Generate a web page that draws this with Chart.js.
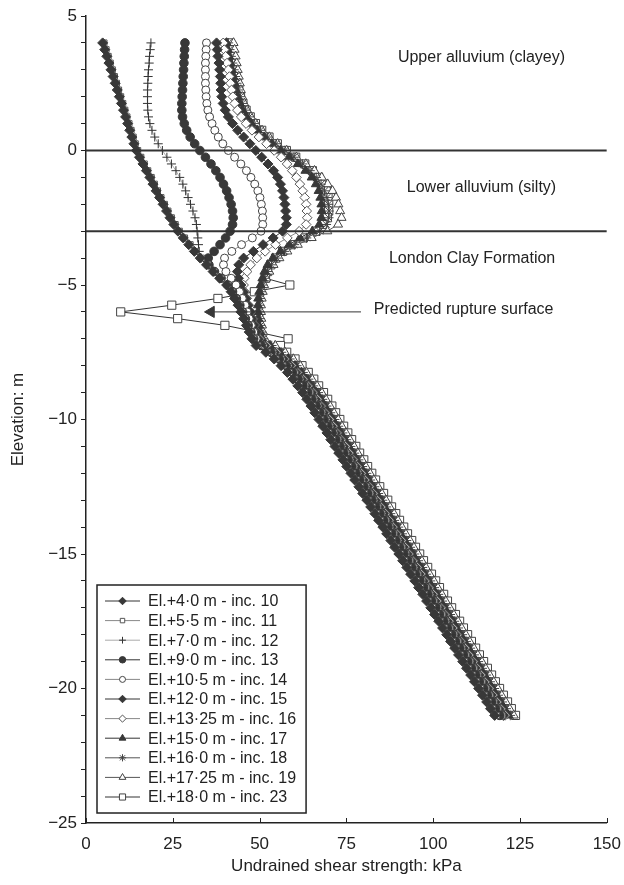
<!DOCTYPE html>
<html>
<head>
<meta charset="utf-8">
<script src="https://cdn.jsdelivr.net/npm/chart.js@4"></script>
<style>
  html, body { margin: 0; padding: 0; background: #fff; }
  #wrap { width: 624px; height: 885px; }
</style>
</head>
<body>
<div id="wrap"><canvas id="chart" width="624" height="885"></canvas></div>
<script>
// Elevation of every reading (m)
const elevation = [
  4, 3.75, 3.5, 3.25, 3, 2.75, 2.5, 2.25, 2, 1.75, 1.5, 1.25, 1, 0.75, 0.5, 0.25, 0,
  -0.25, -0.5, -0.75, -1, -1.25, -1.5, -1.75, -2, -2.25, -2.5, -2.75, -3,
  -3.25, -3.5, -3.75, -4, -4.25, -4.5, -4.75, -5, -5.25, -5.5, -5.75, -6,
  -6.25, -6.5, -6.75, -7, -7.25, -7.5, -7.75, -8, -8.25, -8.5, -8.75, -9,
  -9.25, -9.5, -9.75, -10, -10.25, -10.5, -10.75, -11, -11.25, -11.5, -11.75, -12,
  -12.25, -12.5, -12.75, -13, -13.25, -13.5, -13.75, -14, -14.25, -14.5, -14.75, -15,
  -15.25, -15.5, -15.75, -16, -16.25, -16.5, -16.75, -17, -17.25, -17.5, -17.75, -18,
  -18.25, -18.5, -18.75, -19, -19.25, -19.5, -19.75, -20, -20.25, -20.5, -20.75, -21
];

// Undrained shear strength (kPa) per increment
const inc10 = [4.8, 5.4, 6.0, 6.6, 7.2, 7.8, 8.4, 9.0, 9.6, 10.2, 10.8, 11.4, 12.0, 12.6, 13.2, 13.8, 14.5,
  15.4, 16.4, 17.4, 18.4, 19.3, 20.2, 21.2, 22.2, 23.2, 24.2, 25.3, 26.5,
  28.0, 29.6, 31.2, 32.9, 34.7, 36.6, 38.5, 40.5, 41.8, 42.8, 43.8, 44.6,
  45.4, 46.2, 47.0, 47.8, 49.0, 51.8, 54.2, 56.2, 58.0, 59.6, 61.0, 62.4,
  63.6, 64.8, 65.9, 67.1, 68.2, 69.4, 70.5, 71.7, 72.8, 74.0, 75.1, 76.3,
  77.4, 78.6, 79.7, 80.9, 82.0, 83.2, 84.3, 85.5, 86.6, 87.8, 88.9, 90.1,
  91.2, 92.4, 93.5, 94.7, 95.8, 97.0, 98.1, 99.3, 100.4, 101.6, 102.7, 103.9,
  105.0, 106.2, 107.3, 108.5, 109.6, 110.8, 111.9, 113.1, 114.2, 115.4, 116.5, 117.7];
const inc11 = [5.2, 5.8, 6.4, 7.0, 7.6, 8.2, 8.8, 9.4, 10.0, 10.6, 11.2, 11.8, 12.4, 13.0, 13.6, 14.2, 14.9,
  15.8, 16.8, 17.8, 18.8, 19.7, 20.6, 21.6, 22.6, 23.6, 24.6, 25.7, 26.9,
  28.4, 30.0, 31.6, 33.3, 35.1, 37.0, 38.9, 40.9, 42.2, 43.2, 44.2, 45.0,
  45.8, 46.6, 47.4, 48.2, 49.5, 52.3, 54.7, 56.7, 58.5, 60.1, 61.5, 62.9,
  64.1, 65.3, 66.4, 67.6, 68.7, 69.9, 71.0, 72.2, 73.3, 74.5, 75.6, 76.8,
  77.9, 79.1, 80.2, 81.4, 82.5, 83.7, 84.8, 86.0, 87.1, 88.3, 89.4, 90.6,
  91.7, 92.9, 94.0, 95.2, 96.3, 97.5, 98.6, 99.8, 100.9, 102.1, 103.2, 104.4,
  105.5, 106.7, 107.8, 109.0, 110.1, 111.3, 112.4, 113.6, 114.7, 115.9, 117.0, 118.2];
const inc12 = [18.7, 18.5, 18.3, 18.2, 18.0, 17.9, 17.8, 17.7, 17.7, 17.7, 17.8, 18.0, 18.4, 19.0, 19.8, 20.8, 22.0,
  23.3, 24.6, 25.9, 27.0, 27.9, 28.7, 29.4, 30.1, 30.8, 31.4, 31.8, 32.0,
  32.2, 32.4, 32.6, 33.2, 34.8, 36.7, 38.6, 40.6, 42.0, 43.1, 44.1, 44.9,
  45.7, 46.5, 47.3, 48.1, 50.0, 52.8, 55.2, 57.2, 59.0, 60.6, 62.0, 63.4,
  64.6, 65.8, 66.9, 68.1, 69.2, 70.4, 71.5, 72.7, 73.8, 75.0, 76.1, 77.3,
  78.4, 79.6, 80.7, 81.9, 83.0, 84.2, 85.3, 86.5, 87.6, 88.8, 89.9, 91.1,
  92.2, 93.4, 94.5, 95.7, 96.8, 98.0, 99.1, 100.3, 101.4, 102.6, 103.7, 104.9,
  106.0, 107.2, 108.3, 109.5, 110.6, 111.8, 112.9, 114.1, 115.2, 116.4, 117.5, 118.7];
const inc13 = [28.5, 28.4, 28.3, 28.2, 28.1, 28.0, 27.9, 27.8, 27.7, 27.6, 27.6, 27.8, 28.3, 29.0, 30.0, 31.3, 32.8,
  34.4, 36.0, 37.4, 38.6, 39.6, 40.5, 41.2, 41.8, 42.2, 42.4, 42.2, 41.5,
  40.2, 38.6, 36.9, 35.2, 35.4, 37.0, 38.9, 40.8, 42.2, 43.3, 44.3, 45.1,
  45.9, 46.7, 47.5, 48.3, 50.5, 53.3, 55.7, 57.7, 59.5, 61.1, 62.5, 63.9,
  65.1, 66.3, 67.4, 68.6, 69.7, 70.9, 72.0, 73.2, 74.3, 75.5, 76.6, 77.8,
  78.9, 80.1, 81.2, 82.4, 83.5, 84.7, 85.8, 87.0, 88.1, 89.3, 90.4, 91.6,
  92.7, 93.9, 95.0, 96.2, 97.3, 98.5, 99.6, 100.8, 101.9, 103.1, 104.2, 105.4,
  106.5, 107.7, 108.8, 110.0, 111.1, 112.3, 113.4, 114.6, 115.7, 116.9, 118.0, 119.2];
const inc14 = [34.7, 34.6, 34.5, 34.4, 34.4, 34.4, 34.4, 34.5, 34.6, 34.8, 35.1, 35.6, 36.3, 37.1, 38.1, 39.4, 41.0,
  42.8, 44.6, 46.2, 47.5, 48.6, 49.5, 50.1, 50.5, 50.8, 50.9, 50.9, 50.4,
  47.9, 44.8, 42.0, 39.9, 39.6, 40.3, 41.8, 43.2, 44.2, 45.0, 45.8, 46.4,
  47.0, 47.6, 48.3, 49.0, 51.0, 53.8, 56.2, 58.2, 60.0, 61.6, 63.0, 64.4,
  65.6, 66.8, 67.9, 69.1, 70.2, 71.4, 72.5, 73.7, 74.8, 76.0, 77.1, 78.3,
  79.4, 80.6, 81.7, 82.9, 84.0, 85.2, 86.3, 87.5, 88.6, 89.8, 90.9, 92.1,
  93.2, 94.4, 95.5, 96.7, 97.8, 99.0, 100.1, 101.3, 102.4, 103.6, 104.7, 105.9,
  107.0, 108.2, 109.3, 110.5, 111.6, 112.8, 113.9, 115.1, 116.2, 117.4, 118.5, 119.7];
const inc15 = [37.6, 37.8, 38.0, 38.3, 38.5, 38.7, 38.8, 38.9, 39.1, 39.5, 40.1, 41.0, 42.2, 43.7, 45.4, 47.2, 48.9,
  50.6, 52.4, 54.0, 55.2, 56.0, 56.6, 57.0, 57.3, 57.5, 57.7, 57.7, 56.6,
  53.9, 51.0, 48.2, 45.4, 44.0, 43.6, 43.9, 44.6, 45.3, 46.0, 46.6, 47.2,
  47.8, 48.4, 49.0, 49.6, 51.5, 54.3, 56.7, 58.7, 60.5, 62.1, 63.5, 64.9,
  66.1, 67.3, 68.4, 69.6, 70.7, 71.9, 73.0, 74.2, 75.3, 76.5, 77.6, 78.8,
  79.9, 81.1, 82.2, 83.4, 84.5, 85.7, 86.8, 88.0, 89.1, 90.3, 91.4, 92.6,
  93.7, 94.9, 96.0, 97.2, 98.3, 99.5, 100.6, 101.8, 102.9, 104.1, 105.2, 106.4,
  107.5, 108.7, 109.8, 111.0, 112.1, 113.3, 114.4, 115.6, 116.7, 117.9, 119.0, 120.2];
const inc16 = [39.5, 39.8, 40.2, 40.6, 41.0, 41.3, 41.6, 41.9, 42.3, 42.8, 43.6, 44.7, 46.1, 47.8, 49.8, 52.0, 54.2,
  56.2, 57.9, 59.4, 60.6, 61.6, 62.4, 63.0, 63.4, 63.6, 63.7, 63.4, 61.4,
  58.0, 54.6, 51.6, 49.2, 47.4, 46.4, 45.6, 45.4, 45.7, 46.3, 46.9, 47.5,
  48.1, 48.7, 49.3, 50.0, 52.0, 54.8, 57.2, 59.2, 61.0, 62.6, 64.0, 65.4,
  66.6, 67.8, 68.9, 70.1, 71.2, 72.4, 73.5, 74.7, 75.8, 77.0, 78.1, 79.3,
  80.4, 81.6, 82.7, 83.9, 85.0, 86.2, 87.3, 88.5, 89.6, 90.8, 91.9, 93.1,
  94.2, 95.4, 96.5, 97.7, 98.8, 100.0, 101.1, 102.3, 103.4, 104.6, 105.7, 106.9,
  108.0, 109.2, 110.3, 111.5, 112.6, 113.8, 114.9, 116.1, 117.2, 118.4, 119.5, 120.7];
const inc17 = [40.5, 40.8, 41.2, 41.6, 42.0, 42.4, 42.8, 43.2, 43.7, 44.3, 45.1, 46.2, 47.6, 49.3, 51.3, 53.5, 56.0,
  58.5, 61.0, 63.2, 65.0, 66.2, 67.0, 67.5, 67.8, 67.9, 67.8, 67.2, 65.2,
  61.6, 58.5, 56.0, 53.8, 52.3, 51.4, 50.8, 50.3, 49.9, 49.6, 49.5, 49.5,
  49.6, 49.8, 50.2, 50.8, 53.0, 55.8, 58.2, 60.2, 62.0, 63.6, 65.0, 66.4,
  67.6, 68.8, 69.9, 71.1, 72.2, 73.4, 74.5, 75.7, 76.8, 78.0, 79.1, 80.3,
  81.4, 82.6, 83.7, 84.9, 86.0, 87.2, 88.3, 89.5, 90.6, 91.8, 92.9, 94.1,
  95.2, 96.4, 97.5, 98.7, 99.8, 101.0, 102.1, 103.3, 104.4, 105.6, 106.7, 107.9,
  109.0, 110.2, 111.3, 112.5, 113.6, 114.8, 115.9, 117.1, 118.2, 119.4, 120.5, 121.7];
const inc18 = [41.0, 41.4, 41.8, 42.2, 42.6, 43.0, 43.4, 43.9, 44.4, 45.0, 45.9, 47.0, 48.4, 50.2, 52.3, 54.7, 57.3,
  59.9, 62.4, 64.5, 66.3, 67.7, 68.7, 69.4, 69.8, 70.0, 69.9, 69.2, 67.3,
  63.5, 60.0, 57.2, 55.0, 53.4, 52.3, 51.5, 50.9, 50.5, 50.2, 50.0, 50.0,
  50.1, 50.3, 50.6, 51.1, 53.5, 56.3, 58.7, 60.7, 62.5, 64.1, 65.5, 66.9,
  68.1, 69.3, 70.4, 71.6, 72.7, 73.9, 75.0, 76.2, 77.3, 78.5, 79.6, 80.8,
  81.9, 83.1, 84.2, 85.4, 86.5, 87.7, 88.8, 90.0, 91.1, 92.3, 93.4, 94.6,
  95.7, 96.9, 98.0, 99.2, 100.3, 101.5, 102.6, 103.8, 104.9, 106.1, 107.2, 108.4,
  109.5, 110.7, 111.8, 113.0, 114.1, 115.3, 116.4, 117.6, 118.7, 119.9, 121.0, 122.2];
const inc19 = [42.5, 42.8, 43.1, 43.4, 43.7, 44.0, 44.3, 44.6, 45.0, 45.6, 46.4, 47.5, 48.9, 50.7, 52.8, 55.2, 57.8,
  60.6, 63.3, 65.8, 67.9, 69.6, 71.0, 72.0, 72.7, 73.2, 73.6, 72.6, 69.5,
  65.0, 61.0, 58.0, 55.7, 54.0, 52.8, 51.9, 51.3, 50.9, 50.6, 50.4, 50.4,
  50.5, 50.7, 51.0, 51.5, 54.5, 57.3, 59.7, 61.7, 63.5, 65.1, 66.5, 67.9,
  69.1, 70.3, 71.4, 72.6, 73.7, 74.9, 76.0, 77.2, 78.3, 79.5, 80.6, 81.8,
  82.9, 84.1, 85.2, 86.4, 87.5, 88.7, 89.8, 91.0, 92.1, 93.3, 94.4, 95.6,
  96.7, 97.9, 99.0, 100.2, 101.3, 102.5, 103.6, 104.8, 105.9, 107.1, 108.2, 109.4,
  110.5, 111.7, 112.8, 114.0, 115.1, 116.3, 117.4, 118.6, 119.7, 120.9, 122.0, 123.2];
const inc23 = [41.2, 41.6, 42.0, 42.4, 42.8, 43.2, 43.6, 44.0, 44.5, 45.2, 46.1, 47.3, 48.8, 50.6, 52.7, 55.1, 57.7,
  60.4, 63.0, 65.2, 67.0, 68.3, 69.2, 69.7, 69.9, 69.9, 69.5, 68.4, 66.2,
  62.6, 59.2, 56.6, 54.6, 53.2, 52.3, 51.7, 58.7, 48.5, 38.0, 24.7, 10.0,
  26.4, 40.0, 49.5, 58.2, 56.0, 57.8, 60.2, 62.2, 64.0, 65.6, 67.0, 68.4,
  69.6, 70.8, 71.9, 73.1, 74.2, 75.4, 76.5, 77.7, 78.8, 80.0, 81.1, 82.3,
  83.4, 84.6, 85.7, 86.9, 88.0, 89.2, 90.3, 91.5, 92.6, 93.8, 94.9, 96.1,
  97.2, 98.4, 99.5, 100.7, 101.8, 103.0, 104.1, 105.3, 106.4, 107.6, 108.7, 109.9,
  111.0, 112.2, 113.3, 114.5, 115.6, 116.8, 117.9, 119.1, 120.2, 121.4, 122.5, 123.7];

const seriesValues = [inc10, inc11, inc12, inc13, inc14, inc15, inc16, inc17, inc18, inc19, inc23];
const seriesLabels = [
  'El.+4·0 m - inc. 10', 'El.+5·5 m - inc. 11', 'El.+7·0 m - inc. 12', 'El.+9·0 m - inc. 13',
  'El.+10·5 m - inc. 14', 'El.+12·0 m - inc. 15', 'El.+13·25 m - inc. 16', 'El.+15·0 m - inc. 17',
  'El.+16·0 m - inc. 18', 'El.+17·25 m - inc. 19', 'El.+18·0 m - inc. 23'
];

// Stratum boundaries (m) and text notes
const boundaryElevations = [0, -3];
const noteText = ['Upper alluvium (clayey)', 'Lower alluvium (silty)', 'London Clay Formation', 'Predicted rupture surface'];
const noteKpa = [113.9, 113.9, 111.2, 82.9];
const noteElev = [3.44, -1.39, -4.0, -5.93];
const ruptureElev = -6;
const ruptureKpa = [36, 79.2];

const xTicks = [0, 25, 50, 75, 100, 125, 150];

const FONT = '"Liberation Sans", Arial, Helvetica, sans-serif';
const DARK = '#383838';

// marker look for each increment
const styles = [
  { shape: 'rectRot', r: 5, fill: DARK, stroke: DARK, line: '#333' },
  { shape: 'rect', r: 4.2, fill: '#fff', stroke: '#555', line: '#888' },
  { shape: 'cross', r: 4.5, fill: DARK, stroke: '#333', line: '#aaa' },
  { shape: 'circle', r: 4.3, fill: DARK, stroke: DARK, line: '#333' },
  { shape: 'circle', r: 4, fill: '#fff', stroke: '#444', line: '#888' },
  { shape: 'rectRot', r: 5, fill: DARK, stroke: DARK, line: '#333' },
  { shape: 'rectRot', r: 4.8, fill: '#fff', stroke: '#555', line: '#888' },
  { shape: 'triangle', r: 5.2, fill: DARK, stroke: DARK, line: '#333' },
  { shape: 'star', r: 4.8, fill: DARK, stroke: '#444', line: '#555' },
  { shape: 'triangle', r: 5.2, fill: '#fff', stroke: '#444', line: '#555' },
  { shape: 'rect', r: 5.8, fill: '#fff', stroke: '#444', line: '#333' }
];

const datasets = seriesValues.map((vals, i) => ({
  label: seriesLabels[i],
  data: vals.map((v, k) => ({ x: v, y: elevation[k] })),
  showLine: true,
  borderColor: styles[i].line,
  borderWidth: 1,
  pointStyle: styles[i].shape,
  pointRadius: styles[i].r,
  pointBackgroundColor: styles[i].fill,
  pointBorderColor: styles[i].stroke,
  pointBorderWidth: 1,
  order: 1
}));

boundaryElevations.forEach(e => {
  datasets.push({
    data: [{ x: 0, y: e }, { x: 150, y: e }],
    showLine: true, borderColor: '#333', borderWidth: 2, pointRadius: 0, order: 0
  });
});

datasets.push({
  data: ruptureKpa.map(v => ({ x: v, y: ruptureElev })),
  showLine: true, borderColor: '#333', borderWidth: 1,
  pointStyle: 'triangle', pointRotation: -90, pointRadius: [6.5, 0],
  pointBackgroundColor: DARK, pointBorderColor: DARK, order: 0
});

const notesPlugin = {
  id: 'notes',
  afterDraw(chart) {
    const { ctx } = chart;
    const x = chart.scales.x, y = chart.scales.y;
    ctx.save();
    // x ticks point into the plot
    ctx.strokeStyle = '#222';
    ctx.lineWidth = 1;
    xTicks.forEach(v => {
      const px = Math.round(x.getPixelForValue(v)) + 0.5;
      ctx.beginPath();
      ctx.moveTo(px, y.bottom);
      ctx.lineTo(px, y.bottom - 5);
      ctx.stroke();
    });

    ctx.fillStyle = '#222';
    ctx.font = '16px ' + FONT;
    ctx.textBaseline = 'middle';
    noteText.forEach((t, i) => {
      ctx.textAlign = i === 3 ? 'left' : 'center';
      ctx.fillText(t, x.getPixelForValue(noteKpa[i]), y.getPixelForValue(noteElev[i]));
    });

    // legend box
    const left = 97, top = 585, rowH = 19.6, first = 601;
    ctx.font = '16px ' + FONT;
    let maxW = 0;
    seriesLabels.forEach(t => { maxW = Math.max(maxW, ctx.measureText(t).width); });
    const textX = 148;
    const boxW = textX + maxW + 10 - left;
    const boxH = first + rowH * 10 + 16 - top;
    ctx.fillStyle = '#fff';
    ctx.fillRect(left, top, boxW, boxH);
    ctx.strokeStyle = '#222';
    ctx.lineWidth = 1.5;
    ctx.strokeRect(left, top, boxW, boxH);

    seriesLabels.forEach((t, i) => {
      const cy = first + rowH * i;
      const st = styles[i];
      ctx.strokeStyle = st.line;
      ctx.lineWidth = 1;
      ctx.beginPath();
      ctx.moveTo(105, cy);
      ctx.lineTo(140, cy);
      ctx.stroke();
      ctx.fillStyle = st.fill;
      ctx.strokeStyle = st.stroke;
      Chart.helpers.drawPoint(ctx, { pointStyle: st.shape, radius: st.r * 0.75, rotation: 0, borderWidth: 1 }, 122.5, cy);
      ctx.fillStyle = '#222';
      ctx.textAlign = 'left';
      ctx.textBaseline = 'middle';
      ctx.fillText(t, textX, cy + 1);
    });
    ctx.restore();
  }
};

const minus = v => (v < 0 ? '\u2212' + Math.abs(v) : String(v));

new Chart(document.getElementById('chart'), {
  type: 'scatter',
  data: { datasets },
  options: {
    responsive: false,
    animation: false,
    devicePixelRatio: 1,
    layout: { padding: { top: 16, right: 0, bottom: 0, left: 0 } },
    plugins: { legend: { display: false }, tooltip: { enabled: false } },
    scales: {
      x: {
        type: 'linear', min: 0, max: 150,
        afterFit: s => { s.height = 62; },
        ticks: { stepSize: 25, padding: 3, color: '#222', font: { family: FONT, size: 17 }, maxRotation: 0 },
        grid: { display: false },
        border: { display: true, color: '#222', width: 1.5 },
        title: { display: true, text: 'Undrained shear strength: kPa', color: '#222',
                 font: { family: FONT, size: 17, lineHeight: 1.2 }, padding: { top: 0, bottom: 8 } }
      },
      y: {
        type: 'linear', min: -25, max: 5,
        afterFit: s => { s.width = 86; },
        ticks: { stepSize: 1, autoSkip: false, padding: 4, color: '#222', font: { family: FONT, size: 17 },
                 callback: v => (v % 5 === 0 ? minus(v) : '') },
        grid: { drawOnChartArea: false, drawTicks: true, tickLength: 5, color: '#222', lineWidth: 1 },
        border: { display: true, color: '#222', width: 1.5 },
        title: { display: true, text: 'Elevation: m', color: '#222',
                 font: { family: FONT, size: 17, lineHeight: 1.2 }, padding: { top: 8, bottom: 0 } }
      }
    }
  },
  plugins: [notesPlugin]
});
</script>
</body>
</html>
